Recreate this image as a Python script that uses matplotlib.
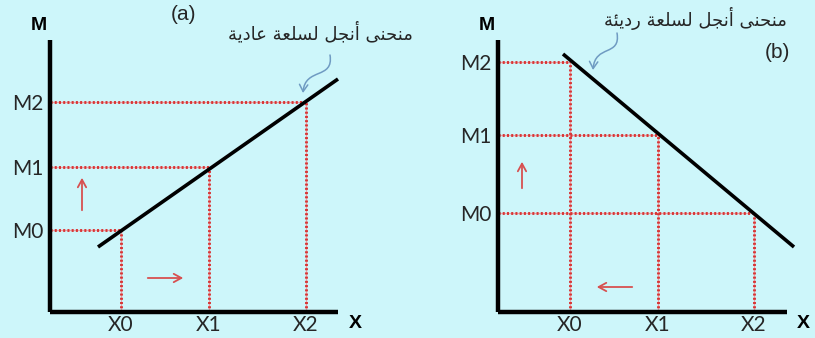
import matplotlib
matplotlib.use("Agg")
import matplotlib.pyplot as plt
from matplotlib.path import Path
from matplotlib.patches import FancyArrowPatch

# ---------------- data ----------------
# panel (a): normal good (upward sloping Engel curve)
x_labels = ["X0", "X1", "X2"]
m_labels = ["M0", "M1", "M2"]
a_x_vals = [71, 159, 256]
a_m_vals = [82, 145, 210]
a_curve_x = [48, 288]
a_curve_y = [65, 233]

# panel (b): inferior good (downward sloping Engel curve)
b_x_vals = [72, 160, 256]
b_m_vals = [99, 177, 250]          # M0, M1, M2
b_curve_x = [65, 296]
b_curve_y = [258, 65]
b_pairs = [(0, 2), (1, 1), (2, 0)]  # X index -> M index

title_a = "(a)"
title_b = "(b)"


def ar(chars):
    return "".join(chr(c) for c in chars)

# Arabic text in shaped presentation forms, visual order
w_munhana = ar([0xFEF0, 0xFEE8, 0xFEA4, 0xFEE8, 0xFEE3])      # منحنى
w_engel = ar([0xFEDE, 0xFEA0, 0xFEE7, 0xFE83])                # أنجل
w_lisila = ar([0xFE94, 0xFECC, 0xFEE0, 0xFEB4, 0xFEDF])       # لسلعة
w_adia = ar([0xFE94, 0xFEF3, 0xFEA9, 0xFE8E, 0xFECB])         # عادية
w_radia = ar([0xFE94, 0xFE8C, 0xFEF3, 0xFEA9, 0xFEAD])        # رديئة
label_a = " ".join([w_adia, w_lisila, w_engel, w_munhana])
label_b = " ".join([w_radia, w_lisila, w_engel, w_munhana])

# ---------------- style ----------------
BG = "#cdf6fa"
RED = "#d83636"
RED_LIGHT = "#eaa0a4"
ARROW_RED = "#d75050"
BLUE = "#6f9bc2"
TXT = "#262626"
TICK_FONT = ["Lato", "DejaVu Sans"]
AR_FONT = ["DejaVu Sans"]

W, H = 815, 338
fig = plt.figure(figsize=(W / 100, H / 100), dpi=100, facecolor=BG)

ax_a = fig.add_axes([50 / W, 26 / H, 288 / W, 272 / H])
ax_b = fig.add_axes([498 / W, 26 / H, 289 / W, 272 / H])
ax_a.set_xlim(0, 288)
ax_b.set_xlim(0, 289)
for ax in (ax_a, ax_b):
    ax.set_ylim(0, 272)
    ax.set_facecolor(BG)
    for s in ("top", "right"):
        ax.spines[s].set_visible(False)
    for s in ("left", "bottom"):
        ax.spines[s].set_linewidth(3.2)
        ax.spines[s].set_color("black")
        ax.spines[s].set_capstyle("butt")
        ax.spines[s].set_zorder(5)
    ax.tick_params(length=0, labelsize=15, labelcolor=TXT)
    ax.tick_params(axis="y", pad=5)
    ax.tick_params(axis="x", pad=2)
    ax.text(-11, 286, "M", fontsize=14, fontweight="bold", ha="center",
            va="center", family=["Liberation Sans"], clip_on=False)
    ax.text(305, -11, "X", fontsize=14, fontweight="bold", ha="center",
            va="center", family=["Liberation Sans"], clip_on=False)


def dotted(ax, xs, ys):
    ax.plot(xs, ys, color=RED_LIGHT, linewidth=0.9, zorder=2)
    ax.plot(xs, ys, color=RED, linestyle=(0, (0.7, 0.75)), linewidth=2.1,
            zorder=3)


def s_arrow(ax, start, c1, c2, tip):
    p = Path([start, c1, c2, tip],
             [Path.MOVETO, Path.CURVE4, Path.CURVE4, Path.CURVE4])
    arr = FancyArrowPatch(path=p, arrowstyle="->,head_length=5,head_width=3",
                          color=BLUE, lw=1.1, transform=ax.transData,
                          clip_on=False)
    ax.add_patch(arr)


arrow_kw = dict(arrowstyle="->,head_length=0.55,head_width=0.3",
                color=ARROW_RED, lw=1.3)

# panel (a)
ax_a.set_xticks(a_x_vals, x_labels, family=TICK_FONT)
ax_a.set_yticks(a_m_vals, m_labels, family=TICK_FONT)
for xv, mv in zip(a_x_vals, a_m_vals):
    dotted(ax_a, [0, xv], [mv, mv])
    dotted(ax_a, [xv, xv], [0, mv])
ax_a.plot(a_curve_x, a_curve_y, color="black", linewidth=2.6,
          solid_capstyle="butt", clip_on=False, zorder=4)
ax_a.annotate("", xy=(32, 137), xytext=(32, 99), arrowprops=arrow_kw)
ax_a.annotate("", xy=(136, 34), xytext=(95, 34), arrowprops=arrow_kw)
ax_a.text(134, 297, title_a, fontsize=15, ha="center", va="center",
          family=["Liberation Sans"], color=TXT, clip_on=False)
ax_a.text(270, 279, label_a, fontsize=13, ha="center", va="center",
          family=AR_FONT, color=TXT, clip_on=False)
s_arrow(ax_a, (280, 257), (284, 232), (255, 245), (253, 219))

# panel (b)
ax_b.set_xticks(b_x_vals, x_labels, family=TICK_FONT)
ax_b.set_yticks(sorted(b_m_vals), m_labels, family=TICK_FONT)
for xi, mi in b_pairs:
    xv, mv = b_x_vals[xi], b_m_vals[mi]
    dotted(ax_b, [0, xv], [mv, mv])
    dotted(ax_b, [xv, xv], [0, mv])
ax_b.plot(b_curve_x, b_curve_y, color="black", linewidth=2.6,
          solid_capstyle="butt", clip_on=False, zorder=4)
ax_b.annotate("", xy=(24, 153), xytext=(24, 121), arrowprops=arrow_kw)
ax_b.annotate("", xy=(96, 25), xytext=(137, 25), arrowprops=arrow_kw)
ax_b.text(279, 260, title_b, fontsize=15, ha="center", va="center",
          family=["Liberation Sans"], color=TXT, clip_on=False)
ax_b.text(197, 294, label_b, fontsize=13, ha="center", va="center",
          family=AR_FONT, color=TXT, clip_on=False)
s_arrow(ax_b, (119, 279), (123, 255), (97, 268), (95, 242))

fig.savefig("out.png", dpi=100, facecolor=BG)
